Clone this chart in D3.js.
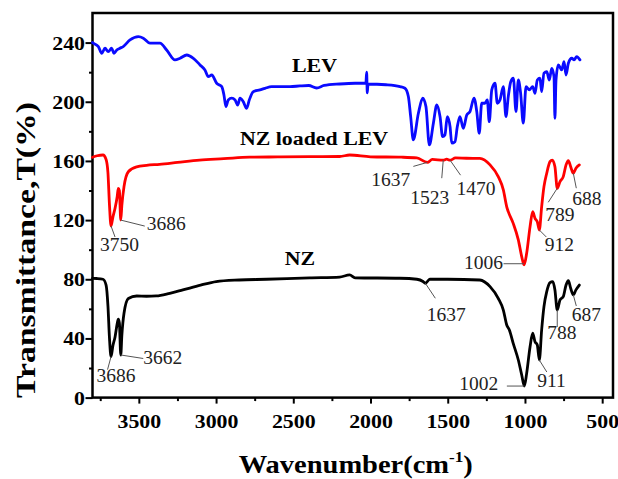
<!DOCTYPE html>
<html><head><meta charset="utf-8">
<script src="https://cdn.jsdelivr.net/npm/d3@7"></script>
<style>body{margin:0;background:#fff}svg{display:block}</style>
</head><body>
<svg id="c" width="618" height="479"></svg>
<script>
// ---------- data ----------
const xTicks = [3500,3000,2500,2000,1500,1000,500];
const xMinor = [3750,3250,2750,2250,1750,1250,750];
const yTicks = [0,40,80,120,160,200,240];
const yMinor = [20,60,100,140,180,220];

const seriesNames = ["LEV","NZ loaded LEV","NZ"];

const levWn = [3800,3795,3762,3740,3719,3698,3676,3661,3643,3622,3601,3557,3503,3471,3428,3363,3320,3266,3233,3190,3147,3104,3072,3050,3028,2996,2963,2949,2936,2921,2899,2877,2860,2845,2824,2802,2785,2759,2716,2683,2640,2521,2457,2400,2349,2300,2200,2100,2030,2025,2021,2016,1900,1809,1777,1755,1740,1723,1690,1662,1641,1619,1593,1571,1550,1533,1518,1503,1485,1474,1453,1438,1421,1399,1377,1356,1330,1312,1296,1280,1259,1244,1231,1215,1194,1179,1162,1140,1123,1108,1092,1075,1058,1043,1028,1011,993,972,950,935,920,903,892,877,859,842,827,812,806,799,784,762,747,734,719,697,682,665,644];
const levT = [240,239.6,237.3,232.8,236.2,233.9,236.2,232.8,235,236.2,237.3,241.8,244,243,239.6,239.6,235,228.3,229.4,231.6,229.4,224.9,221.5,217,218.1,212.5,210.2,204.6,196.7,201.2,202.4,201.2,197.8,202.4,200.1,195.6,201.2,206.8,208,209.1,210.2,210.2,210.7,211,209.3,211,212,212.5,212.5,220,206,212,211.5,210.2,209.1,203.5,190,174.2,192.2,202.4,196.7,170.8,185.5,197.8,190,176.4,177.6,190,183.2,172,173,183.2,190,182,191,193.3,202.4,193.3,178.7,199,199,201.2,186.5,208,212.5,199,201.2,210.2,190,203.5,213.6,215.9,193.3,214.7,205.7,185.5,210.2,208,210.2,205.7,214.7,215.9,206.8,219.3,220.3,214.7,222.6,217,188.8,214.7,224.9,221.5,227.1,218.1,226,229.4,228.3,230.5,228.3];

const nlWn = [3800,3770,3732,3712,3700,3690,3680,3668,3654,3640,3633,3626,3617,3610,3596,3568,3514,3450,3366,3250,3107,2950,2783,2600,2394,2200,2135,2000,1800,1700,1632,1600,1529,1507,1485,1450,1379,1292,1226,1173,1140,1118,1108,1076,1043,1021,1006,989,967,950,935,920,907,892,877,859,838,823,806,791,773,752,734,719,704,687,670,648];
const nlT = [162.5,163.5,164,161,152,130,116,122,128,136,141.5,140,120,130,142.6,152.7,156,157,157.7,159,160.6,161.5,162.5,162.7,162.9,163,164,162.8,162.5,162,159,161,160.5,161.2,160.5,162,161.8,161.7,157.3,149.4,140.4,129,125.7,117.8,106.6,95.3,89.7,97.6,115.6,125.7,121.2,118.9,113.3,129,142.6,151.7,159.5,160.6,156.1,141.5,146,149.4,157.3,160.2,156.1,151.7,155,157.3];

const nzWn = [3800,3770,3732,3712,3700,3690,3680,3668,3654,3640,3633,3626,3617,3610,3596,3568,3514,3450,3387,3300,3215,3100,2999,2850,2674,2394,2200,2135,2100,1811,1700,1660,1645,1616,1500,1292,1226,1173,1140,1118,1101,1076,1043,1021,1004,989,967,950,935,920,907,892,877,859,838,820,806,791,773,752,734,719,704,687,670,648];
const nzT = [80.6,80.5,80,76,62,40,27.7,35,41,50,53,50.4,28.8,42,57,67,68.7,68.5,68.7,70.5,72.8,76,78.4,79.5,80,81,81.5,82.9,81,80.7,80,78.5,77.3,80,80,79.5,75,67.1,59.2,49.1,45.7,36.7,25.4,15.3,7.8,16.4,34.4,43.5,37.8,35.6,25.4,45.7,61.5,71.6,77.7,78.4,72.8,59.2,66,68.2,76.1,79,73.9,69.4,72.8,76.1];

// series label anchor points (data coords)
const nameWn = [2508,2845,2555];
const nameT = [220,170.6,89.6];

// peak annotations
const peakLabels = ["3750","3686","1637","1523","1470","1006","912","789","688","3686","3662","1637","1002","911","788","687"];
const peakWn = [3680,3617,1632,1529,1485,1006,907,791,687,3680,3617,1645,1004,907,791,687];
const peakT = [116,120,159,160.5,160.5,90.5,113.3,141.5,151.7,27.7,28.8,77.3,7.8,25.4,59.2,69.4];

// ---------- layout ----------
const leadOff = [[4,11],[24,6],[-14,4],[-1.5,18],[10.5,15],[-20.5,0],[7,7],[-9,14],[3,15],[-3.5,13],[22.5,3.5],[10,15],[-17.5,0],[7.5,12],[0,17],[3,11]];
const textOff = [[-11,24.7,'start'],[26,10,'start'],[-17,24,'end'],[-33,44,'start'],[6.5,35,'start'],[-21,5,'end'],[5.5,20.7,'start'],[-12,33,'start'],[-1,32,'start'],[-14.5,25,'start'],[22.5,9,'start'],[1.5,37.5,'start'],[-26,3.5,'end'],[-2,27,'start'],[-10,28.5,'start'],[-1.5,26,'start']];

const m = {l:92.5, r:613, t:13, b:397.6};
const SX = 1.15;
const serif = "'Liberation Serif','Times New Roman',serif";

const x = d3.scaleLinear().domain([3800,430]).range([m.l,m.r]);
const y = d3.scaleLinear().domain([0,260]).range([m.b,m.t]);
const svg = d3.select('#c');

// axes
const gx = svg.append('g').attr('transform',`translate(0,${m.b})`)
  .call(d3.axisBottom(x).tickValues(xTicks).tickSize(6).tickSizeOuter(0).tickFormat(d3.format('d')));
gx.select('.domain').remove();
gx.selectAll('line').attr('stroke','#000').attr('stroke-width',2);
gx.selectAll('text').attr('y',30.5).attr('dy',null)
  .attr('transform',`scale(${SX},1)`)
  .attr('font-family',serif).attr('font-weight','bold').attr('font-size',19).attr('fill','#000');
const gxm = svg.append('g').attr('transform',`translate(0,${m.b})`)
  .call(d3.axisBottom(x).tickValues(xMinor).tickSize(3.5).tickSizeOuter(0).tickFormat(''));
gxm.select('.domain').remove();
gxm.selectAll('line').attr('stroke','#000').attr('stroke-width',2);

const gy = svg.append('g').attr('transform',`translate(${m.l},0)`)
  .call(d3.axisLeft(y).tickValues(yTicks).tickSize(7).tickSizeOuter(0));
gy.select('.domain').remove();
gy.selectAll('line').attr('stroke','#000').attr('stroke-width',2);
gy.selectAll('text').attr('x',-7.5/SX).attr('dy','0.34em')
  .attr('transform',`scale(${SX},1)`)
  .attr('font-family',serif).attr('font-weight','bold').attr('font-size',19).attr('fill','#000');
const gym = svg.append('g').attr('transform',`translate(${m.l},0)`)
  .call(d3.axisLeft(y).tickValues(yMinor).tickSize(3.5).tickSizeOuter(0).tickFormat(''));
gym.select('.domain').remove();
gym.selectAll('line').attr('stroke','#000').attr('stroke-width',2);

// frame
svg.append('rect').attr('x',m.l).attr('y',m.t).attr('width',m.r-m.l).attr('height',m.b-m.t)
  .attr('fill','none').attr('stroke','#000').attr('stroke-width',2.5);

// curves
const line = d3.line().x(d=>x(d[0])).y(d=>y(d[1])).curve(d3.curveMonotoneX);
const series = [
  {wn:levWn, t:levT, color:'#0a0aff'},
  {wn:nlWn, t:nlT, color:'#ff0000'},
  {wn:nzWn, t:nzT, color:'#000000'}
];
series.forEach(s=>{
  svg.append('path').datum(s.wn.map((w,i)=>[w,s.t[i]]))
    .attr('d',line).attr('fill','none').attr('stroke',s.color)
    .attr('stroke-width',2.8).attr('stroke-linejoin','round').attr('stroke-linecap','round');
});

// series names
seriesNames.forEach((n,i)=>{
  svg.append('text')
    .attr('transform',`translate(${x(nameWn[i])},${y(nameT[i])}) scale(${SX},1)`)
    .attr('font-family',serif).attr('font-weight','bold').attr('font-size',19)
    .attr('fill','#000').text(n);
});

// peak annotations
peakLabels.forEach((lab,i)=>{
  const px = x(peakWn[i]), py = y(peakT[i]);
  svg.append('line').attr('x1',px).attr('y1',py)
    .attr('x2',px+leadOff[i][0]).attr('y2',py+leadOff[i][1])
    .attr('stroke','#555').attr('stroke-width',1);
  svg.append('text').attr('x',px+textOff[i][0]).attr('y',py+textOff[i][1])
    .attr('text-anchor',textOff[i][2])
    .attr('font-family',serif).attr('font-size',19.5).attr('fill','#222').text(lab);
});

// axis titles
const xt = svg.append('text')
  .attr('transform',`translate(${(m.l+m.r)/2+3},473) scale(1.14,1)`)
  .attr('text-anchor','middle').attr('font-family',serif).attr('font-weight','bold')
  .attr('font-size',25).attr('fill','#000');
xt.append('tspan').text('Wavenumber(cm');
xt.append('tspan').attr('font-size',15).attr('dy',-11).text('-1');
xt.append('tspan').attr('dy',11).text(')');

svg.append('text')
  .attr('transform',`translate(35,250) scale(${SX},1) rotate(-90)`)
  .attr('text-anchor','middle').attr('font-family',serif).attr('font-weight','bold')
  .attr('font-size',24).attr('fill','#000')
  .attr('textLength',296).attr('lengthAdjust','spacingAndGlyphs')
  .text('Transmittance,T(%)');
</script>
</body></html>
